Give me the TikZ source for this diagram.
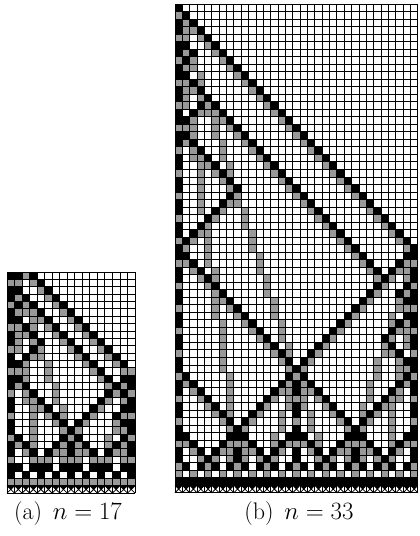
\documentclass[tikz,border=0pt]{standalone}
\definecolor{cg}{gray}{0.6}
\tikzset{gridl/.style={line width=0.9pt},
  xline/.style={line width=0.8pt},
  lbl/.style={font=\fontsize{24}{28}\selectfont, anchor=base}}
\newcommand\BC[2]{\fill[black] (#1,#2) rectangle ++(1,1);}
\newcommand\GC[2]{\fill[cg] (#1,#2) rectangle ++(1,1);}
\newcommand\WC[2]{\fill[white] (#1,#2) rectangle ++(1,1);}
\newcommand\FC[2]{\fill[black] (#1,#2) -- ++(1,0) -- ++(-0.5,0.5) -- cycle;
  \draw[xline] (#1,#2) -- ++(1,1) ++(0,-1) -- ++(-1,1);}
% segments of speed-1 signals: x0/t0/dir/len ; mode 0 = grey trail, 1 = black
\newcommand\drawsegs[2]{%
  \foreach \sx/\st/\sd/\sl in #1 {
    \foreach \k in {0,...,\sl} {
      \pgfmathtruncatemacro\cx{\sx+\sd*\k}
      \pgfmathtruncatemacro\ct{\st+\k}
      \ifnum#2=1 \BC{\cx}{\ct}\else
        \ifnum\k>0 \pgfmathtruncatemacro\px{\cx-\sd}\GC{\px}{\ct}\fi\fi
    }}}
% slow grey signal: x0/t0/dir/k/tmax
\newcommand\drawslow[1]{%
  \foreach \sx/\st/\sd/\sk/\sm in #1 {
    \foreach \t in {\st,...,\sm} {
      \pgfmathtruncatemacro\cx{\sx+\sd*floor((\t-\st)/\sk)}
      \GC{\cx}{\t}}}}
% general column: x/tstart/tend
\newcommand\drawgen[1]{%
  \foreach \gx/\ga/\gb in #1 {
    \foreach \t in {\ga,...,\gb} {
      \pgfmathtruncatemacro\m{mod(\t,3)}
      \ifnum\m=1 \GC{\gx}{\t}\else\BC{\gx}{\t}\fi}}}
\def\segsA{0/0/1/16, 16/16/-1/8, 0/16/1/8, 0/4/1/14,
 0/2/1/1, 1/3/-1/1, 2/6/-1/2, 0/8/1/4, 4/12/-1/4,
 16/18/-1/1, 15/19/1/1, 16/20/-1/2, 14/22/1/2,
 0/24/1/4, 8/24/-1/4, 8/24/1/4, 16/24/-1/4,
 0/28/1/2, 4/28/-1/2, 4/28/1/2, 8/28/-1/2, 8/28/1/2, 12/28/-1/2, 12/28/1/2, 16/28/-1/2}
\def\slowA{0/0/1/3/24, 16/16/-1/3/28, 0/0/1/7/28, 16/16/-1/7/30, 8/24/-1/3/30, 8/24/1/3/30}
\def\genA{0/0/30, 16/16/30, 8/24/30, 4/28/30, 12/28/30}
\def\segsB{0/0/1/32, 32/32/-1/16, 0/32/1/16, 0/8/1/28, 0/16/1/8,
 0/4/1/2, 2/6/-1/2, 4/12/-1/4, 8/24/-1/8,
 32/36/-1/2, 30/38/1/2, 32/40/-1/4, 28/44/1/4,
 0/48/1/8, 16/48/-1/8, 16/48/1/8, 32/48/-1/8,
 0/56/1/4, 8/56/-1/4, 8/56/1/4, 16/56/-1/4, 16/56/1/4, 24/56/-1/4, 24/56/1/4, 32/56/-1/4,
 0/60/1/2, 4/60/-1/2, 4/60/1/2, 8/60/-1/2, 8/60/1/2, 12/60/-1/2, 12/60/1/2, 16/60/-1/2,
 16/60/1/2, 20/60/-1/2, 20/60/1/2, 24/60/-1/2, 24/60/1/2, 28/60/-1/2, 28/60/1/2, 32/60/-1/2}
\def\slowB{0/0/1/3/48, 32/32/-1/3/56, 0/0/1/7/56, 32/32/-1/7/60, 16/48/-1/3/60, 16/48/1/3/60,
 8/56/-1/3/61, 8/56/1/3/61, 24/56/-1/3/61, 24/56/1/3/61}
\def\genB{0/0/61, 32/32/61, 16/48/61, 8/56/61, 24/56/61, 4/60/61, 12/60/61, 20/60/61, 28/60/61}
\begin{document}
\begin{tikzpicture}[x=1pt,y=-1pt]
\useasboundingbox (0,0) rectangle (420,536);
% ---------- (a) n=17, rows show times 3..32
\begin{scope}[shift={(7,249.89)}, x=7.53pt, y=-7.37pt]
  \begin{scope}
    \clip (0,3) rectangle (17,32);
    \drawslow{\slowA}
    \drawsegs{\segsA}{0}
    \drawsegs{\segsA}{1}
    \drawgen{\genA}
    \foreach \c in {0,...,16} {\WC{\c}{30}\GC{\c}{31}}
    \foreach \c in {0,2,...,16} {\BC{\c}{30}}
  \end{scope}
  \foreach \c in {0,...,17} {\draw[gridl] (\c,3) -- (\c,33);}
  \foreach \r in {3,...,33} {\draw[gridl] (0,\r) -- (17,\r);}
  \foreach \c in {0,...,16} {\FC{\c}{32}}
\end{scope}
% ---------- (b) n=33, times 0..64
\begin{scope}[shift={(175,4)}, x=7.36pt, y=-7.52pt]
  \begin{scope}
    \clip (0,0) rectangle (33,64);
    \drawslow{\slowB}
    \drawsegs{\segsB}{0}
    \drawsegs{\segsB}{1}
    \drawgen{\genB}
    \foreach \c in {0,...,32} {\WC{\c}{62}\BC{\c}{63}}
    \foreach \c in {0,2,...,32} {\GC{\c}{62}}
  \end{scope}
  \foreach \c in {0,...,33} {\draw[gridl] (\c,0) -- (\c,65);}
  \foreach \r in {0,...,65} {\draw[gridl] (0,\r) -- (33,\r);}
  \foreach \c in {0,...,32} {\FC{\c}{64}}
\end{scope}
\node[lbl] (la) at (68,519) {(a)\hspace{0.45em}$n=17$};
\node[lbl] (lb) at (299,519) {(b)\hspace{0.45em}$n=33$};
\end{tikzpicture}
\end{document}
